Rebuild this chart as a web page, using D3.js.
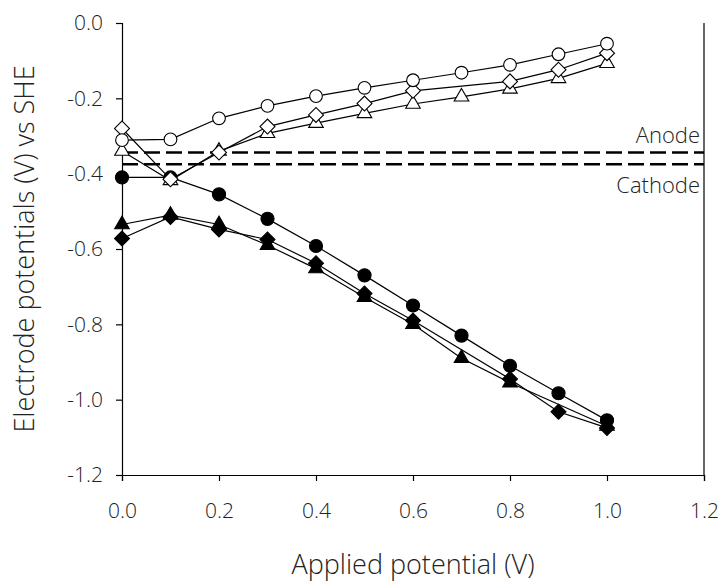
<!DOCTYPE html>
<html>
<head>
<meta charset="utf-8">
<script src="https://cdn.jsdelivr.net/npm/d3@7"></script>
<style>
  body { margin: 0; background: #fff; }
  text { font-family: "Open Sans", "DejaVu Sans", sans-serif; font-weight: 300; fill: #222; }
</style>
</head>
<body>
<script>
var margin = {top: 23, right: 19, bottom: 110, left: 122},
    width = 723 - margin.left - margin.right,
    height = 585 - margin.top - margin.bottom;

// applied potential (V)
var applied = [0.0, 0.1, 0.2, 0.3, 0.4, 0.5, 0.6, 0.7, 0.8, 0.9, 1.0];

// electrode potentials (V vs SHE), null = no point
var openCircle   = [-0.311, -0.309, -0.253, -0.220, -0.194, -0.172, -0.152, -0.132, -0.111, -0.083, -0.055];
var openDiamond  = [-0.280, -0.415, -0.344, -0.275, -0.244, -0.214, -0.180, null, -0.155, -0.124, -0.080];
var openTriangle = [-0.340, -0.418, -0.340, -0.293, -0.266, -0.240, -0.215, -0.196, -0.175, -0.147, -0.107];
var fillCircle   = [-0.410, -0.410, -0.455, -0.520, -0.592, -0.670, -0.750, -0.830, -0.910, -0.983, -1.055];
var fillTriangle = [-0.535, -0.510, -0.535, -0.590, -0.652, -0.728, -0.800, -0.890, -0.955, null, -1.070];
var fillDiamond  = [-0.572, -0.515, -0.548, -0.575, -0.638, -0.718, -0.790, null, -0.945, -1.032, -1.075];

var anodeLevel = -0.344, cathodeLevel = -0.375;

var xTicks = [0, 0.2, 0.4, 0.6, 0.8, 1.0, 1.2];
var yTicks = [0, -0.2, -0.4, -0.6, -0.8, -1.0, -1.2];

var xScale = d3.scaleLinear().domain([0, 1.2]).range([0, width]),
    yScale = d3.scaleLinear().domain([-1.2, 0]).range([height, 0]);

var svg = d3.select("body").append("svg")
    .attr("width", 723)
    .attr("height", 585)
  .append("g")
    .attr("transform", "translate(" + margin.left + "," + margin.top + ")");

// x axis
var xAxis = d3.axisBottom(xScale).tickValues(xTicks).tickSize(6).tickPadding(22)
    .tickFormat(d3.format(".1f"));
var gx = svg.append("g")
    .attr("transform", "translate(0," + height + ")")
    .call(xAxis);

// y axis
var yAxis = d3.axisLeft(yScale).tickValues(yTicks).tickSize(6).tickPadding(13)
    .tickFormat(function(d) { return d3.format(".1f")(d).replace("−", "-"); });
var gy = svg.append("g").call(yAxis);

[gx, gy].forEach(function(g) {
  g.select(".domain").attr("stroke", "#000").attr("stroke-width", 1.2);
  g.selectAll(".tick line").attr("stroke", "#000").attr("stroke-width", 1.2);
  g.selectAll("text").style("font-size", "21px").attr("fill", "#222");
});

// right frame line
svg.append("line")
    .attr("x1", width).attr("x2", width)
    .attr("y1", 0).attr("y2", height)
    .attr("stroke", "#000").attr("stroke-width", 1.2);

// axis titles
svg.append("text")
    .attr("x", width / 2)
    .attr("y", height + 99)
    .attr("text-anchor", "middle")
    .style("font-size", "27px")
    .text("Applied potential (V)");

svg.append("text")
    .attr("transform", "rotate(-90)")
    .attr("x", -height / 2)
    .attr("y", -margin.left + 34)
    .attr("text-anchor", "middle")
    .style("font-size", "27px")
    .text("Electrode potentials (V) vs SHE");

// anode / cathode reference lines
[anodeLevel, cathodeLevel].forEach(function(v) {
  svg.append("line")
      .attr("x1", 0).attr("x2", width)
      .attr("y1", yScale(v)).attr("y2", yScale(v))
      .attr("stroke", "#000")
      .attr("stroke-width", 2.6)
      .attr("stroke-dasharray", "16,6");
});
svg.append("text")
    .attr("x", width - 4).attr("y", yScale(anodeLevel) - 10)
    .attr("text-anchor", "end")
    .style("font-size", "22px")
    .text("Anode");
svg.append("text")
    .attr("x", width - 4).attr("y", yScale(cathodeLevel) + 29)
    .attr("text-anchor", "end")
    .style("font-size", "22px")
    .text("Cathode");

// diamond = square turned 45 degrees
var series = [
  {values: fillDiamond,  shape: d3.symbolSquare,   rot: 45, fill: "#000", size: 112},
  {values: fillTriangle, shape: d3.symbolTriangle, rot: 0,  fill: "#000", size: 92},
  {values: fillCircle,   shape: d3.symbolCircle,   rot: 0,  fill: "#000", size: 135},
  {values: openTriangle, shape: d3.symbolTriangle, rot: 0,  fill: "#fff", size: 92},
  {values: openDiamond,  shape: d3.symbolSquare,   rot: 45, fill: "#fff", size: 112},
  {values: openCircle,   shape: d3.symbolCircle,   rot: 0,  fill: "#fff", size: 127}
];

var line = d3.line()
    .x(function(d) { return xScale(d.x); })
    .y(function(d) { return yScale(d.y); });

series.forEach(function(s) {
  s.points = applied.map(function(x, i) { return {x: x, y: s.values[i]}; })
      .filter(function(d) { return d.y !== null; });
  svg.append("path")
      .attr("d", line(s.points))
      .attr("fill", "none")
      .attr("stroke", "#000")
      .attr("stroke-width", 1.2);
});

series.forEach(function(s) {
  svg.selectAll(null)
      .data(s.points)
    .enter().append("path")
      .attr("d", d3.symbol().type(s.shape).size(s.size))
      .attr("transform", function(d) {
        return "translate(" + xScale(d.x) + "," + yScale(d.y) + ") rotate(" + s.rot + ")";
      })
      .attr("fill", s.fill)
      .attr("stroke", "#000")
      .attr("stroke-width", 1.1);
});
</script>
</body>
</html>
